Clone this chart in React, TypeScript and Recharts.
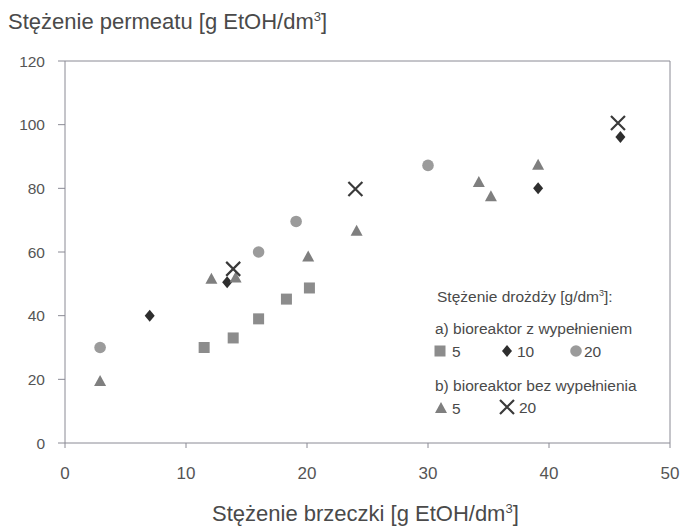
import React from 'react';
import { ScatterChart, Scatter, XAxis, YAxis, ReferenceLine } from 'recharts';

// a) bioreaktor z wypełnieniem
const packed5 = [
  { x: 11.5, y: 30 },
  { x: 13.9, y: 33 },
  { x: 16.0, y: 39 },
  { x: 18.3, y: 45.2 },
  { x: 20.2, y: 48.7 },
];
const packed10 = [
  { x: 7.0, y: 40 },
  { x: 13.4, y: 50.5 },
  { x: 39.1, y: 80 },
  { x: 45.9, y: 96.1 },
];
const packed20 = [
  { x: 2.9, y: 30 },
  { x: 16.0, y: 60 },
  { x: 19.1, y: 69.6 },
  { x: 30.0, y: 87.2 },
];
// b) bioreaktor bez wypełnienia
const free5 = [
  { x: 2.9, y: 19.5 },
  { x: 12.1, y: 51.6 },
  { x: 14.1, y: 52 },
  { x: 20.1, y: 58.6 },
  { x: 24.1, y: 66.7 },
  { x: 34.2, y: 82 },
  { x: 35.2, y: 77.5 },
  { x: 39.1, y: 87.4 },
];
const free20 = [
  { x: 13.9, y: 54.7 },
  { x: 24.0, y: 79.8 },
  { x: 45.7, y: 100.5 },
];

const xTicks = [0, 10, 20, 30, 40, 50];
const yTicks = [0, 20, 40, 60, 80, 100, 120];

const FONT = '"Liberation Sans", Arial, sans-serif';
const AXIS = '#8a8a94';

const Square = ({ cx, cy }: any) => <rect x={cx - 5.5} y={cy - 5.5} width={11} height={11} fill="#8c8c8c" />;
const Diamond = ({ cx, cy }: any) => (
  <path d={`M${cx},${cy - 6}L${cx + 5},${cy}L${cx},${cy + 6}L${cx - 5},${cy}Z`} fill="#2e2e2e" />
);
const Circle = ({ cx, cy }: any) => <circle cx={cx} cy={cy} r={5.8} fill="#9b9b9b" />;
const Triangle = ({ cx, cy }: any) => (
  <path d={`M${cx},${cy - 6}L${cx + 6},${cy + 5}L${cx - 6},${cy + 5}Z`} fill="#7f7f7f" />
);
const Cross = ({ cx, cy }: any) => (
  <path
    d={`M${cx - 7},${cy - 7}L${cx + 7},${cy + 7}M${cx - 7},${cy + 7}L${cx + 7},${cy - 7}`}
    stroke="#3a3a3a"
    strokeWidth={2.2}
    fill="none"
  />
);

const XTick = ({ x, y, payload }: any) => (
  <text x={x} y={y + 31} textAnchor="middle" fill="#555" fontFamily={FONT} fontSize={17}>
    {payload?.value}
  </text>
);
const YTick = ({ x, y, payload }: any) => (
  <text x={x} y={y + 5.5} textAnchor="end" fill="#555" fontFamily={FONT} fontSize={15.5}>
    {payload?.value}
  </text>
);

const textStyle: React.CSSProperties = {
  position: 'absolute',
  fontFamily: FONT,
  color: '#4a4a4a',
  whiteSpace: 'nowrap',
  lineHeight: 1.15,
};

const LegendItem = ({ Shape, cx, cy, textX, label }: any) => (
  <>
    <svg width={18} height={18} style={{ position: 'absolute', left: cx - 9, top: cy - 9 }}>
      <Shape cx={9} cy={9} />
    </svg>
    <div style={{ ...textStyle, left: textX, top: cy - 8, fontSize: 15.5 }}>{label}</div>
  </>
);

const App: React.FC = () => {
  return (
    <div style={{ position: 'absolute', left: 0, top: 0, width: 683, height: 526, background: '#fff' }}>
      <ScatterChart width={683} height={526} margin={{ top: 61, right: 13, bottom: 53, left: 0 }}>
        <XAxis
          type="number"
          dataKey="x"
          domain={[0, 50]}
          ticks={xTicks}
          stroke={AXIS}
          tickSize={5}
          tickMargin={0}
          height={30}
          tick={<XTick />}
        />
        <YAxis
          type="number"
          dataKey="y"
          domain={[0, 120]}
          ticks={yTicks}
          stroke={AXIS}
          tickSize={7}
          tickMargin={13}
          width={65}
          tick={<YTick />}
        />
        <ReferenceLine y={120} stroke={AXIS} />
        <ReferenceLine x={50} stroke={AXIS} />
        <Scatter data={packed5} shape={Square} isAnimationActive={false} />
        <Scatter data={packed10} shape={Diamond} isAnimationActive={false} />
        <Scatter data={packed20} shape={Circle} isAnimationActive={false} />
        <Scatter data={free5} shape={Triangle} isAnimationActive={false} />
        <Scatter data={free20} shape={Cross} isAnimationActive={false} />
      </ScatterChart>

      <div style={{ ...textStyle, left: 8, top: 9, fontSize: 22 }}>
        Stężenie permeatu [g EtOH/dm<sup style={{ fontSize: 13 }}>3</sup>]
      </div>
      <div style={{ ...textStyle, left: 212, top: 501, fontSize: 22 }}>
        Stężenie brzeczki [g EtOH/dm<sup style={{ fontSize: 13 }}>3</sup>]
      </div>

      <div style={{ ...textStyle, left: 437, top: 288, fontSize: 15.5 }}>
        Stężenie drożdży [g/dm<sup style={{ fontSize: 9 }}>3</sup>]:
      </div>
      <div style={{ ...textStyle, left: 435, top: 320, fontSize: 15.5 }}>a) bioreaktor z wypełnieniem</div>
      <LegendItem Shape={Square} cx={440} cy={351} textX={452} label="5" />
      <LegendItem Shape={Diamond} cx={507} cy={351} textX={517} label="10" />
      <LegendItem Shape={Circle} cx={576} cy={351} textX={584} label="20" />
      <div style={{ ...textStyle, left: 435, top: 377, fontSize: 15.5 }}>b) bioreaktor bez wypełnienia</div>
      <LegendItem Shape={Triangle} cx={441} cy={408} textX={452} label="5" />
      <LegendItem Shape={Cross} cx={507} cy={407} textX={519} label="20" />
    </div>
  );
};

export default App;
